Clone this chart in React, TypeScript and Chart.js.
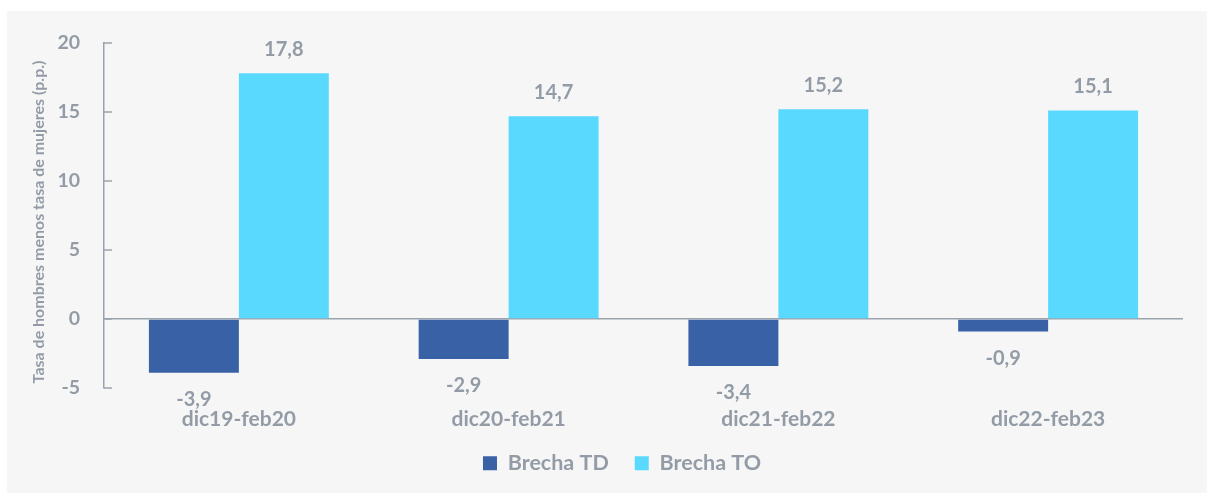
import React, { useEffect, useRef } from "react";
import { Chart, registerables } from "chart.js";

Chart.register(...registerables);

const categories = ["dic19-feb20", "dic20-feb21", "dic21-feb22", "dic22-feb23"];
const brechaTD = [-3.9, -2.9, -3.4, -0.9];
const brechaTO = [17.8, 14.7, 15.2, 15.1];
const seriesNames = ["Brecha TD", "Brecha TO"];
const yTicks = [-5, 0, 5, 10, 15, 20];
const yTitle = "Tasa de hombres menos tasa de mujeres (p.p.)";

const GRAY = "#939ca6";
const AXIS = "#9aa3ad";
const FONT = "Lato";

const valueLabels = {
  id: "valueLabels",
  afterDatasetsDraw(chart: any) {
    const ctx = chart.ctx;
    ctx.save();
    ctx.font = `bold 20px ${FONT}`;
    ctx.fillStyle = GRAY;
    ctx.textAlign = "center";
    ctx.textBaseline = "middle";
    chart.data.datasets.forEach((ds: any, di: number) => {
      const meta = chart.getDatasetMeta(di);
      meta.data.forEach((bar: any, i: number) => {
        const v = ds.data[i];
        const txt = v.toFixed(1).replace(".", ",");
        const y = v >= 0 ? bar.y - 24 : bar.y + 27;
        ctx.fillText(txt, bar.x, y);
      });
    });
    ctx.restore();
  },
};

const axisExtras = {
  id: "axisExtras",
  afterLayout(chart: any) {
    if (chart.legend) {
      chart.legend.left += 27;
      chart.legend.right += 27;
    }
  },
  afterDraw(chart: any) {
    const y = chart.scales.y;
    const ctx = chart.ctx;
    const area = chart.chartArea;
    ctx.save();
    ctx.strokeStyle = AXIS;
    ctx.lineWidth = 1.5;
    yTicks.forEach((t) => {
      const py = y.getPixelForValue(t);
      ctx.beginPath();
      ctx.moveTo(area.left, py);
      ctx.lineTo(area.left + 8, py);
      ctx.stroke();
    });
    ctx.translate(32, (area.top + area.bottom) / 2 + 6.5);
    ctx.rotate(-Math.PI / 2);
    ctx.font = `bold 16px ${FONT}`;
    ctx.fillStyle = GRAY;
    ctx.textAlign = "center";
    ctx.textBaseline = "middle";
    ctx.fillText(yTitle, 0, 0);
    ctx.restore();
  },
};

export default function App() {
  const ref = useRef<HTMLCanvasElement>(null);
  useEffect(() => {
    if (!ref.current) return;
    const chart = new Chart(ref.current, {
      type: "bar",
      data: {
        labels: categories,
        datasets: [
          {
            label: seriesNames[0],
            data: brechaTD,
            backgroundColor: "#3861a6",
            categoryPercentage: 0.667,
            barPercentage: 1,
          },
          {
            label: seriesNames[1],
            data: brechaTO,
            backgroundColor: "#5ad9fe",
            categoryPercentage: 0.667,
            barPercentage: 1,
          },
        ],
      },
      options: {
        animation: false,
        responsive: false,
        maintainAspectRatio: false,
        layout: { padding: { left: 0, top: 32, right: 24, bottom: 9 } },
        plugins: {
          tooltip: { enabled: false },
          legend: {
            position: "bottom",
            labels: {
              color: GRAY,
              font: { family: FONT, size: 21.5, weight: "bold" },
              boxWidth: 14,
              boxHeight: 14,
              padding: 26,
            },
          },
        },
        scales: {
          x: {
            grid: { display: false, drawTicks: false },
            border: { display: false },
            ticks: {
              color: GRAY,
              font: { family: FONT, size: 21, weight: "bold" },
              padding: 18.5,
            },
            afterFit: (s: any) => {
              s.height = 38.5;
            },
          },
          y: {
            min: -5,
            max: 20,
            afterBuildTicks: (s: any) => {
              s.ticks = yTicks.map((v) => ({ value: v }));
            },
            grid: {
              drawTicks: true,
              tickLength: 24,
              tickColor: "transparent",
              color: (c: any) => (c.tick && c.tick.value === 0 ? AXIS : "transparent"),
              lineWidth: 1.5,
            },
            border: { display: true, color: AXIS, width: 1.5 },
            ticks: {
              color: GRAY,
              font: { family: FONT, size: 19.5, weight: "bold" },
              padding: 0,
            },
            afterFit: (s: any) => {
              s.width = 97;
            },
          },
        },
      },
      plugins: [valueLabels, axisExtras],
    });
    return () => chart.destroy();
  }, []);
  return (
    <div
      style={{
        position: "absolute",
        left: 7,
        top: 11,
        width: 1200,
        height: 482,
        background: "#f6f6f6",
      }}
    >
      <canvas ref={ref} width={1200} height={482} style={{ display: "block" }} />
    </div>
  );
}
